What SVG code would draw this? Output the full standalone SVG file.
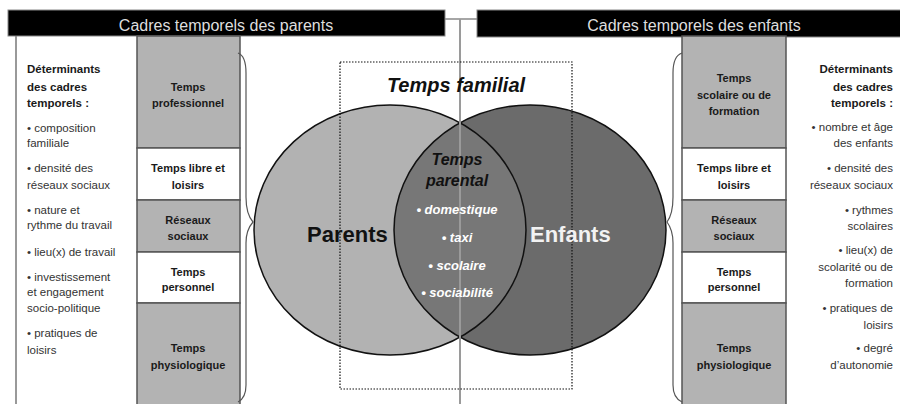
<svg xmlns="http://www.w3.org/2000/svg" width="900" height="404" viewBox="0 0 900 404">
<style>
.hdr{font-family:"Liberation Sans",Arial,sans-serif;font-size:16px;fill:#dedede;text-anchor:middle}
.side{font-family:"Liberation Sans",Arial,sans-serif;font-size:11.5px;fill:#333}
.sideb{font-family:"Liberation Sans",Arial,sans-serif;font-size:11.5px;font-weight:bold;fill:#1a1a1a}
.lab{font-family:"Liberation Sans",Arial,sans-serif;font-size:11px;font-weight:bold;fill:#1a1a1a;text-anchor:middle}
.gbox{fill:#b3b3b3;stroke:#555;stroke-width:1.5}
.wbox{fill:#fff;stroke:#555;stroke-width:1.5}
.brace{fill:none;stroke:#555;stroke-width:1.2}
.big{font-family:"Liberation Sans",Arial,sans-serif;font-size:22px;font-weight:bold}
.par{font-family:"Liberation Sans",Arial,sans-serif;font-size:16px;font-weight:bold;font-style:italic;fill:#111;text-anchor:middle}
.item{font-family:"Liberation Sans",Arial,sans-serif;font-size:13px;font-weight:bold;font-style:italic;fill:#fff;text-anchor:middle}
</style>
<rect width="900" height="404" fill="#fff"/>
<g id="frame">
<line x1="16" y1="36" x2="16" y2="404" stroke="#777" stroke-width="1.5"/>
</g>
<g id="header-parents">
<rect x="8" y="10" width="437" height="26" fill="#000" stroke="#888" stroke-width="1"/>
<text class="hdr" x="226" y="31">Cadres temporels des parents</text>
</g>
<g id="header-enfants">
<rect x="477" y="10" width="424" height="27" fill="#000" stroke="#888" stroke-width="1"/>
<text class="hdr" x="694" y="31">Cadres temporels des enfants</text>
</g>
<g id="det-parents">
<text class="sideb" x="27" y="73">Déterminants</text>
<text class="sideb" x="27" y="91">des cadres</text>
<text class="sideb" x="27" y="107">temporels :</text>
<text class="side" x="27" y="132">• composition</text>
<text class="side" x="27" y="147">familiale</text>
<text class="side" x="27" y="172">• densité des</text>
<text class="side" x="27" y="189">réseaux sociaux</text>
<text class="side" x="27" y="214">• nature et</text>
<text class="side" x="27" y="229">rythme du travail</text>
<text class="side" x="27" y="256">• lieu(x) de travail</text>
<text class="side" x="27" y="281">• investissement</text>
<text class="side" x="27" y="296">et engagement</text>
<text class="side" x="27" y="312">socio-politique</text>
<text class="side" x="27" y="337">• pratiques de</text>
<text class="side" x="27" y="354">loisirs</text>
</g>
<g id="col-parents">
<rect class="gbox" x="137" y="36" width="103" height="112"/>
<rect class="wbox" x="137" y="148" width="103" height="52"/>
<rect class="gbox" x="137" y="200" width="103" height="52"/>
<rect class="wbox" x="137" y="252" width="103" height="51"/>
<rect class="gbox" x="137" y="303" width="103" height="110"/>
<text class="lab" x="188" y="91">Temps</text>
<text class="lab" x="188" y="107">professionnel</text>
<text class="lab" x="188" y="172">Temps libre et</text>
<text class="lab" x="188" y="189">loisirs</text>
<text class="lab" x="188" y="224">Réseaux</text>
<text class="lab" x="188" y="240">sociaux</text>
<text class="lab" x="188" y="276">Temps</text>
<text class="lab" x="188" y="291">personnel</text>
<text class="lab" x="188" y="352">Temps</text>
<text class="lab" x="188" y="369">physiologique</text>
</g>
<g id="col-enfants">
<rect class="gbox" x="682" y="36" width="104" height="112"/>
<rect class="wbox" x="682" y="148" width="104" height="52"/>
<rect class="gbox" x="682" y="200" width="104" height="52"/>
<rect class="wbox" x="682" y="252" width="104" height="51"/>
<rect class="gbox" x="682" y="303" width="104" height="110"/>
<text class="lab" x="734" y="82">Temps</text>
<text class="lab" x="734" y="99">scolaire ou de</text>
<text class="lab" x="734" y="115">formation</text>
<text class="lab" x="734" y="172">Temps libre et</text>
<text class="lab" x="734" y="189">loisirs</text>
<text class="lab" x="734" y="224">Réseaux</text>
<text class="lab" x="734" y="240">sociaux</text>
<text class="lab" x="734" y="276">Temps</text>
<text class="lab" x="734" y="291">personnel</text>
<text class="lab" x="734" y="352">Temps</text>
<text class="lab" x="734" y="369">physiologique</text>
</g>
<g id="det-enfants" text-anchor="end">
<text class="sideb" x="893" y="73">Déterminants</text>
<text class="sideb" x="893" y="91">des cadres</text>
<text class="sideb" x="893" y="107">temporels :</text>
<text class="side" x="893" y="131">• nombre et âge</text>
<text class="side" x="893" y="147">des enfants</text>
<text class="side" x="893" y="172">• densité des</text>
<text class="side" x="893" y="189">réseaux sociaux</text>
<text class="side" x="893" y="214">• rythmes</text>
<text class="side" x="893" y="230">scolaires</text>
<text class="side" x="893" y="254">• lieu(x) de</text>
<text class="side" x="893" y="271">scolarité ou de</text>
<text class="side" x="893" y="287">formation</text>
<text class="side" x="893" y="312">• pratiques de</text>
<text class="side" x="893" y="329">loisirs</text>
<text class="side" x="893" y="352">• degré</text>
<text class="side" x="893" y="369">d’autonomie</text>
</g>
<g id="venn">
<ellipse id="parents" cx="390" cy="230" rx="136" ry="125" fill="#b2b2b2"/>
<ellipse id="enfants" cx="530" cy="230" rx="136" ry="125" fill="#6b6b6b"/>
<path id="lens" d="M460,123 A136,125 0 0,0 460,337 A136,125 0 0,0 460,123 Z" fill="#777"/>
<ellipse cx="390" cy="230" rx="136" ry="125" fill="none" stroke="#111" stroke-width="1.5"/>
<ellipse cx="530" cy="230" rx="136" ry="125" fill="none" stroke="#111" stroke-width="1.5"/>
</g>
<g id="connectors">
<line x1="445" y1="19" x2="477" y2="19" stroke="#888" stroke-width="1.5"/>
<line x1="460" y1="19" x2="460" y2="404" stroke="#9a9a9a" stroke-width="2"/>
<path class="brace" d="M238,53 Q246,56 246,73 L246,197 Q246,214 253,222 Q246,230 246,243 L246,385 Q246,398 238,402"/>
<path class="brace" d="M682,53 Q673,56 673,73 L673,197 Q673,214 667,222 Q673,230 673,243 L673,385 Q673,398 682,402"/>
</g>
<g id="temps-familial">
<rect x="340" y="62" width="232" height="327" fill="none" stroke="#111" stroke-width="1.2" stroke-dasharray="1.5,1.5"/>
<text x="456" y="92" font-family="Liberation Sans, Arial, sans-serif" font-size="20" font-weight="bold" font-style="italic" fill="#111" text-anchor="middle">Temps familial</text>
</g>
<g id="labels">
<text class="big" x="307" y="242" fill="#111">Parents</text>
<text class="big" x="530" y="242" fill="#f2f2f2">Enfants</text>
<text class="par" x="457" y="165">Temps</text>
<text class="par" x="457" y="186">parental</text>
<text class="item" x="457" y="214">• domestique</text>
<text class="item" x="457" y="242">• taxi</text>
<text class="item" x="457" y="270">• scolaire</text>
<text class="item" x="457" y="297">• sociabilité</text>
</g>
</svg>
